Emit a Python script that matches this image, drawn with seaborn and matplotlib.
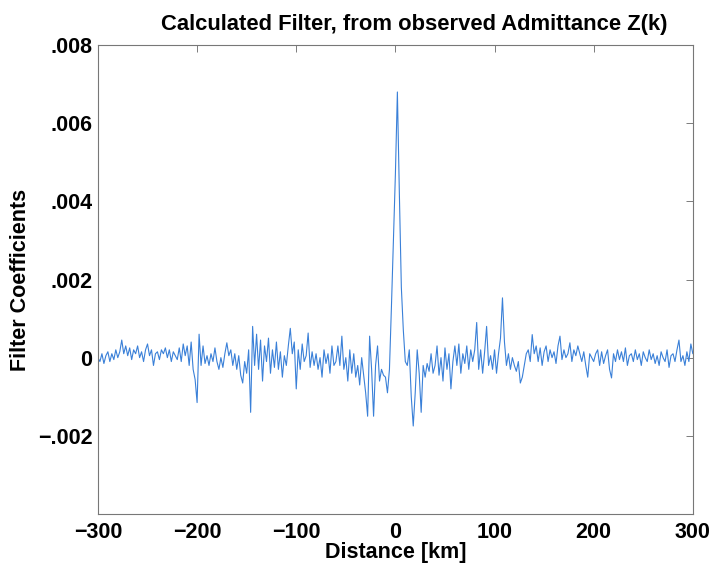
import numpy as np
import pandas as pd
import matplotlib
matplotlib.use("Agg")
import matplotlib.pyplot as plt
import seaborn as sns

# Distance axis: -300 .. 300 km, 2 km step
distance_km = list(range(-300, 301, 2))

# Filter coefficients in units of 1e-4
coef_e4 = [
    # -300 .. -282
    0, -1, 1, -1.5, 0.5, 1.5, -1, 1, -0.5, 2,
    # -280 .. -262
    0, 1.5, 4.5, 1, 3, 0.5, 2.5, -0.5, 2, 1,
    # -260 .. -242
    3, 0, 1.5, -1, 2, 3.5, 0.5, 2, -2, 1,
    # -240 .. -222
    1.5, -0.5, 2, 1, 2.5, 0, 2, -1, 1.5, 0.5,
    # -220 .. -202
    -0.5, 2.5, -1, 3.5, 0.5, 3, -2, 4, -3, -5.6,
    # -200 .. -182
    -11.5, 6, -2, 3, -1.5, 0.5, -2, 1, -1, 2.5,
    # -180 .. -162
    -1, -3, 0, -2.5, 1, 3.8, 0.5, 2, -2, 1,
    # -160 .. -142
    -3, 0.5, -4.5, -6.5, -1, -4, 2, -14, 8, -2,
    # -140 .. -122
    6, -3, 4.5, -6, 3, -1, 5, -4, 2, -2.5,
    # -120 .. -102
    4, -3, 1.5, -5, 0.5, -2, 3, 7.5, 1, 4,
    # -100 .. -82
    -8, 2, -3, 3.5, -1, 0.5, 6.3, -2.5, 1.5, -2,
    # -80 .. -62
    1, -3, 0, -5, 2, -1.5, 1, -4, 3, -2,
    # -60 .. -42
    -1, 3, -2, 5.5, -3, 0, -6, 2, -4, 1,
    # -40 .. -22
    -5, -2, -7, 0, -4.5, -9, -15, 5.5, -3, -15,
    # -20 .. -2
    -2, 3, -6, -3, -4.5, -5, -9, -3, 13, 30,
    # 0 .. 18
    47, 68, 42, 18, 7, -1, -2, 2, -10, -17.5,
    # 20 .. 38
    -9, 2, -4, -14, -2, -5, -1.5, -3.5, 1, -4,
    # 40 .. 58
    -2, 3, -4.5, 0, -6, 2.5, -3, 1, -8, -1,
    # 60 .. 78
    3, -2, 3.5, -4, 1, -1.5, 3, -3, 2, -1,
    # 80 .. 98
    2, 9, -3, 2, -4, 1.5, 8, -2, 0.5, -3,
    # 100 .. 118
    2, -4, 1, 5, 15.3, 4, -2, 1, -3, 0,
    # 120 .. 138
    -2, -3.5, -1, -6.5, -5, -2, 1, 2, -1, 5.9,
    # 140 .. 158
    1, 3, -1, 2.5, -2, 1.5, 3, -1, 2, 0,
    # 160 .. 178
    1.5, -1.5, 3, 5.5, -0.5, 2, 0, 1, 3.8, -1,
    # 180 .. 198
    2, 0.5, 3, 1, -1, 1.5, -2, -5, 1, 0,
    # 200 .. 218
    -1, 1, 2, -2, 1.5, -1.5, 0.5, 2, -3, -5.2,
    # 220 .. 238
    1, -1, 2, -0.5, 1.5, -1, 2.5, -2, 0.5, 1,
    # 240 .. 258
    -1, 2, -0.5, 1, -2, 1.5, 0, -1, 2, -0.5,
    # 260 .. 278
    1, -1.5, 0.5, -2, 1.5, 0, -1, 2, -2.5, 0.5,
    # 280 .. 298
    1, -1, 2, 4.5, -1, 0.5, -2, 1.5, -1, 3.5,
    # 300
    1,
]

x_ticks = [-300, -200, -100, 0, 100, 200, 300]
x_tick_labels = ["\u2212300", "\u2212200", "\u2212100", "0", "100", "200", "300"]
y_ticks = [-0.002, 0, 0.002, 0.004, 0.006, 0.008]
y_tick_labels = ["\u2212.002", "0", ".002", ".004", ".006", ".008"]

title = "Calculated Filter, from observed Admittance Z(k)"
x_label = "Distance [km]"
y_label = "Filter Coefficients"

df = pd.DataFrame({"Distance": distance_km,
                   "Coef": np.array(coef_e4) * 1e-4})

sns.set_style("white")
plt.rcParams["font.family"] = ["Liberation Sans", "DejaVu Sans"]
plt.rcParams["text.color"] = "black"
plt.rcParams["axes.labelcolor"] = "black"
plt.rcParams["xtick.color"] = "black"
plt.rcParams["ytick.color"] = "black"

fig = plt.figure(figsize=(7.15, 5.71), dpi=100)
ax = fig.add_axes([0.137, 0.100, 0.832, 0.821])

sns.lineplot(data=df, x="Distance", y="Coef", ax=ax, color="#3a80d8",
             linewidth=0.8, estimator=None)

ax.set_xlim(-300, 300)
ax.set_ylim(-0.004, 0.008)
ax.set_xticks(x_ticks)
ax.set_xticklabels(x_tick_labels, fontsize=15.5, fontweight="bold")
ax.set_yticks(y_ticks)
ax.set_yticklabels(y_tick_labels, fontsize=15.5, fontweight="bold")
ax.tick_params(direction="in", length=5, width=0.6, colors="black",
               top=True, right=True)
ax.tick_params(axis="x", pad=6, color="#666666")
ax.tick_params(axis="y", pad=4, color="#666666")
for s in ax.spines.values():
    s.set_color("#777777")
    s.set_linewidth(0.8)

ax.set_title(title, fontsize=15.8, fontweight="bold", pad=11, x=0.531)
ax.set_xlabel(x_label, fontsize=15.5, fontweight="bold", labelpad=-1)
ax.set_ylabel(y_label, fontsize=15.5, fontweight="bold", labelpad=5)

fig.savefig("out.png", dpi=100, facecolor="white")
